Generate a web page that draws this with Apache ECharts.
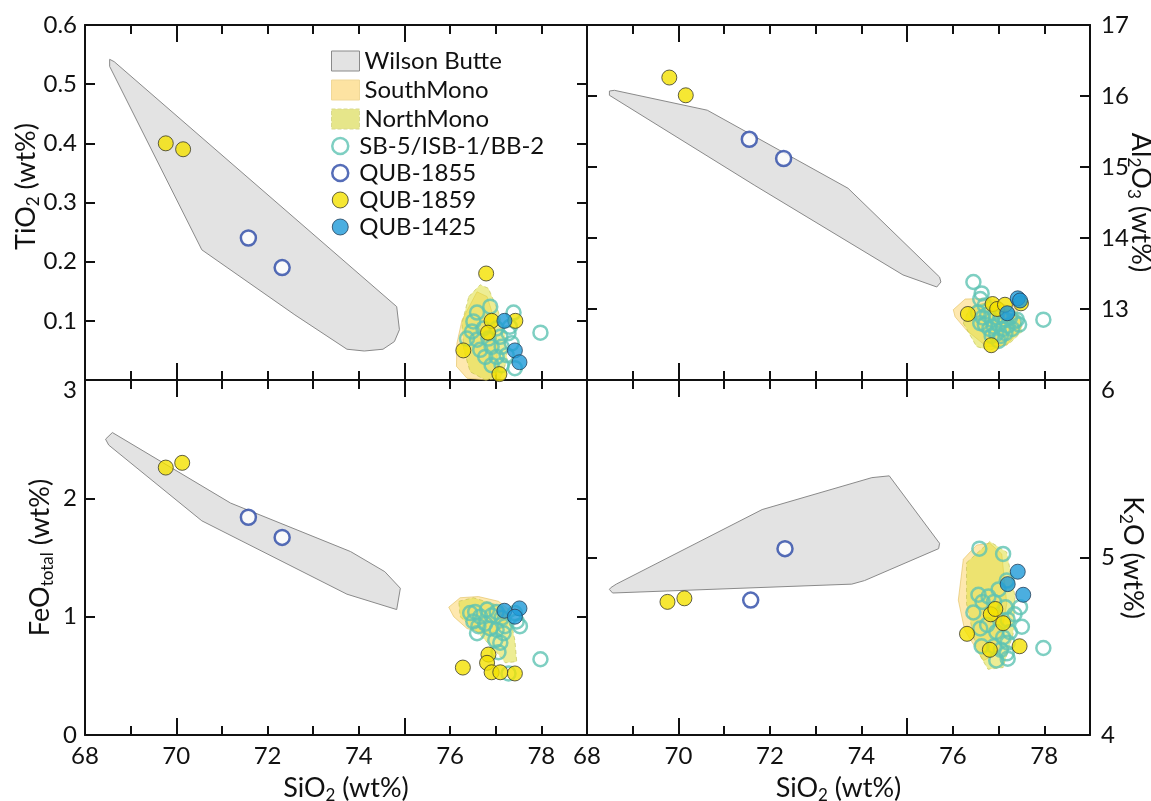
<!DOCTYPE html>
<html>
<head>
<meta charset="utf-8">
<script src="https://cdn.jsdelivr.net/npm/echarts@6/dist/echarts.min.js"></script>
<style>
    html, body { margin: 0; background: #fff; }
    #chart { width: 1151px; height: 801px; }
</style>
</head>
<body>
<div id="chart"></div>
<script>
// ---- SiO2 axis (shared by all four panels) ----
const sio2Labels     = [68, 70, 72, 74, 76, 78];
const sio2MajorTicks = [70, 75];
const sio2MinorTicks = [69, 71, 72, 73, 74, 76, 77, 78];

// ---- TiO2 panel ----
const tio2Ticks  = [0.1, 0.2, 0.3, 0.4, 0.5];
const tio2Labels = [0.1, 0.2, 0.3, 0.4, 0.5, 0.6];
const wilsonTiO2 = [[68.54,0.542],[68.64,0.538],[74.83,0.124],[74.89,0.085],[74.78,0.065],[74.53,0.052],[74.12,0.049],[73.74,0.052],[72.6,0.11],[70.56,0.22],[68.54,0.53]];
const southTiO2  = [[76.59,0.149],[76.81,0.141],[76.95,0.107],[77.03,0.062],[77.03,0.011],[76.81,0.0],[76.37,0.003],[76.14,0.023],[76.15,0.062],[76.26,0.101]];
const northTiO2  = [[76.41,0.141],[76.66,0.161],[76.84,0.155],[77.06,0.115],[77.21,0.073],[77.25,0.034],[77.10,0.003],[76.77,0.0],[76.44,0.014],[76.30,0.051],[76.26,0.096]];
const sbTiO2     = [[76.59,0.114],[76.88,0.124],[77.39,0.114],[76.48,0.082],[76.73,0.087],[77.02,0.087],[76.59,0.068],[76.84,0.070],[77.10,0.073],[77.28,0.079],[76.66,0.051],[76.91,0.056],[77.13,0.056],[77.35,0.062],[76.77,0.039],[77.02,0.039],[77.24,0.042],[76.91,0.025],[77.13,0.025],[77.42,0.020],[77.31,0.090],[76.51,0.099],[76.37,0.070],[77.98,0.08]];
const q1855TiO2  = [[71.58,0.24],[72.32,0.19]];
const q1859TiO2  = [[69.77,0.40],[70.15,0.39],[76.79,0.18],[76.91,0.10],[76.83,0.08],[77.43,0.10],[76.29,0.05],[77.08,0.01]];
const q1425TiO2  = [[77.19,0.10],[77.42,0.05],[77.52,0.03]];

// ---- Al2O3 panel ----
const al2o3Ticks  = [13, 14, 15, 16];
const al2o3Labels = [13, 14, 15, 16, 17];
const wilsonAl2O3 = [[68.49,16.07],[68.6,16.08],[70.63,15.80],[73.71,14.70],[75.71,13.45],[75.74,13.38],[75.65,13.31],[74.91,13.48],[71.67,14.74],[68.49,16.01]];
const southAl2O3  = [[76.01,12.99],[76.27,13.14],[76.81,13.15],[77.40,12.99],[77.51,12.75],[77.18,12.49],[76.74,12.47],[76.30,12.70],[76.05,12.89]];
const northAl2O3  = [[76.23,12.80],[76.37,13.03],[76.81,13.10],[77.47,12.87],[77.51,12.68],[77.25,12.52],[76.81,12.42],[76.52,12.47]];
const sbAl2O3     = [[76.45,13.38],[76.63,13.22],[76.60,13.14],[76.70,13.05],[76.55,12.95],[76.65,12.88],[76.75,12.92],[76.85,12.85],[76.95,12.88],[77.05,12.90],[77.15,12.85],[77.25,12.88],[77.35,12.82],[77.45,12.78],[76.70,12.78],[76.80,12.72],[76.90,12.75],[77.00,12.78],[77.10,12.72],[77.20,12.76],[77.30,12.72],[76.85,12.62],[76.95,12.65],[77.05,12.62],[77.15,12.66],[77.00,12.55],[76.60,12.80],[77.40,12.85],[77.98,12.85]];
const q1855Al2O3  = [[71.55,15.39],[72.30,15.12]];
const q1859Al2O3  = [[69.80,16.26],[70.16,16.01],[76.33,12.93],[76.87,13.07],[76.97,13.00],[77.14,13.06],[77.49,13.08],[76.84,12.49]];
const q1425Al2O3  = [[77.42,13.15],[77.47,13.12],[77.19,12.94]];

// ---- FeO total panel ----
const feoTicks  = [1, 2];
const feoLabels = [0, 1, 2, 3];
const wilsonFeO = [[68.45,2.50],[68.60,2.556],[71.19,1.96],[73.82,1.55],[74.57,1.38],[74.91,1.24],[74.83,1.06],[73.74,1.19],[70.56,1.81],[68.52,2.45]];
const southFeO  = [[75.97,1.08],[76.22,1.16],[76.62,1.17],[77.06,1.13],[77.35,1.04],[77.24,0.92],[76.81,0.85],[76.37,0.90],[76.08,1.00]];
const northFeO  = [[76.19,1.13],[76.51,1.16],[77.02,1.10],[77.31,1.00],[77.42,0.80],[77.46,0.62],[77.21,0.61],[76.95,0.73],[76.62,0.86],[76.22,1.00]];
const sbFeO     = [[76.44,1.03],[76.55,1.04],[76.66,1.00],[76.51,0.96],[76.62,0.92],[76.77,0.94],[76.91,1.01],[77.02,1.04],[77.13,0.99],[76.88,0.90],[77.02,0.89],[77.20,0.92],[77.46,0.96],[76.99,0.80],[77.06,0.70],[77.10,0.78],[77.28,0.52],[77.53,0.92],[77.42,1.03],[76.81,1.06],[76.59,0.86],[77.17,0.86],[77.98,0.64]];
const q1855FeO  = [[71.58,1.84],[72.32,1.67]];
const q1859FeO  = [[69.77,2.26],[70.13,2.30],[76.28,0.57],[76.84,0.68],[76.81,0.61],[76.91,0.53],[77.10,0.53],[77.42,0.52]];
const q1425FeO  = [[77.19,1.05],[77.52,1.07],[77.42,1.00]];

// ---- K2O panel ----
const k2oTicks  = [5];
const k2oLabels = [4, 5, 6];
const wilsonK2O = [[68.49,4.82],[68.52,4.83],[68.64,4.85],[71.83,5.27],[74.23,5.45],[74.61,5.46],[75.71,5.08],[75.69,5.05],[74.07,4.87],[73.79,4.85],[68.56,4.80]];
const southK2O  = [[76.12,4.76],[76.23,4.99],[76.52,5.07],[76.81,5.08],[77.07,5.02],[77.18,4.74],[76.99,4.46],[76.67,4.42],[76.26,4.59]];
const northK2O  = [[76.30,4.97],[76.81,5.09],[77.18,5.03],[77.36,4.78],[77.32,4.57],[77.10,4.38],[76.77,4.37],[76.52,4.48],[76.30,4.74]];
const sbK2O     = [[76.58,5.05],[77.10,5.02],[77.18,4.87],[77.00,4.82],[76.56,4.79],[76.78,4.78],[76.65,4.75],[76.90,4.75],[77.15,4.72],[77.47,4.72],[76.45,4.69],[77.35,4.68],[76.60,4.60],[76.75,4.62],[77.20,4.65],[77.51,4.61],[76.95,4.58],[77.10,4.55],[77.25,4.58],[76.63,4.50],[76.90,4.50],[77.05,4.48],[77.20,4.52],[77.18,4.46],[77.20,4.43],[76.95,4.42],[77.98,4.49]];
const q1855K2O  = [[72.33,5.05],[71.58,4.76]];
const q1859K2O  = [[69.76,4.75],[70.13,4.77],[76.31,4.57],[76.83,4.68],[76.93,4.71],[77.10,4.63],[76.81,4.48],[77.46,4.50]];
const q1425K2O  = [[77.42,4.92],[77.20,4.85],[77.54,4.79]];

const FONT    = 'Lato';
const INK     = '#111';
const TICK_FS = 24;
const NAME_FS = 27;
const SUB     = { fontSize: 17, fontFamily: FONT, color: INK, verticalAlign: 'bottom', padding: [0, 0, -2, 0] };
// invisible spacer used to slide a rotated axis title along its axis
const SP      = (w) => ({ width: w, fontSize: NAME_FS, fontFamily: FONT, color: 'rgba(0,0,0,0)' });

const STYLE = {
    wilson: { fill: '#e3e3e3', stroke: '#8a8a8a', dash: null },
    south:  { fill: 'rgba(253, 214, 110, 0.55)', stroke: 'rgba(225, 190, 90, 0.6)', dash: null },
    north:  { fill: 'rgba(222, 222, 60, 0.55)',  stroke: 'rgba(190, 190, 80, 0.6)', dash: [4, 3] },
};

const panels = [
    { grid: { left: 85,  top: 25,  width: 502, height: 355 }, min: 0,  max: 0.6, ticks: tio2Ticks,  labels: tio2Labels,  side: 'left',
      name: '{sp| }TiO{s|2} (wt%)', spacer: 32, nameGap: 45, xTitle: false,
      wilson: wilsonTiO2, south: southTiO2, north: northTiO2, sb: sbTiO2, q1855: q1855TiO2, q1859: q1859TiO2, q1425: q1425TiO2 },
    { grid: { left: 587, top: 25,  width: 503, height: 355 }, min: 12, max: 17,  ticks: al2o3Ticks, labels: al2o3Labels, side: 'right',
      name: 'Al{s|2}O{s|3} (wt%)', nameGap: 37, xTitle: false,
      wilson: wilsonAl2O3, south: southAl2O3, north: northAl2O3, sb: sbAl2O3, q1855: q1855Al2O3, q1859: q1859Al2O3, q1425: q1425Al2O3 },
    { grid: { left: 85,  top: 380, width: 502, height: 355 }, min: 0,  max: 3,   ticks: feoTicks,   labels: feoLabels,   side: 'left',
      name: 'FeO{s|total} (wt%)', nameGap: 31, xTitle: true, pushTop: true,
      wilson: wilsonFeO, south: southFeO, north: northFeO, sb: sbFeO, q1855: q1855FeO, q1859: q1859FeO, q1425: q1425FeO },
    { grid: { left: 587, top: 380, width: 503, height: 355 }, min: 4,  max: 6,   ticks: k2oTicks,   labels: k2oLabels,   side: 'right',
      name: 'K{s|2}O (wt%)', nameGap: 29, xTitle: true, pushTop: true,
      wilson: wilsonK2O, south: southK2O, north: northK2O, sb: sbK2O, q1855: q1855K2O, q1859: q1859K2O, q1425: q1425K2O },
];

const lineStyle = { color: INK, width: 2 };

function xAxes(p, gi) {
    const base = { gridIndex: gi, type: 'value', min: 68, max: 79, splitLine: { show: false } };
    const axes = [];
    ['bottom', 'top'].forEach((pos) => {
        const labelled = pos === 'bottom' && p.xTitle;
        axes.push({
            ...base, position: pos,
            axisLine: { show: true, onZero: false, lineStyle },
            axisTick: { show: true, inside: true, length: 17, customValues: sio2MajorTicks, lineStyle },
            axisLabel: { show: labelled, customValues: sio2Labels, fontSize: TICK_FS, fontFamily: FONT, color: INK, margin: 9 },
            name: labelled ? (gi === 2 ? '{sp| }SiO{s|2} (wt%)' : 'SiO{s|2} (wt%)') : '',
            nameLocation: 'middle', nameGap: 40, nameMoveOverlap: false,
            nameTextStyle: { fontSize: NAME_FS, fontFamily: FONT, color: INK, rich: { s: SUB, sp: SP(20) } },
        });
        axes.push({
            ...base, position: pos,
            axisLine: { show: false, onZero: false },
            axisTick: { show: true, inside: true, length: 9, customValues: sio2MinorTicks, lineStyle },
            axisLabel: { show: false },
        });
    });
    return axes;
}

function yAxes(p, gi) {
    return ['left', 'right'].map((pos) => {
        const labelled = pos === p.side;
        return {
            gridIndex: gi, type: 'value', position: pos, min: p.min, max: p.max,
            splitLine: { show: false },
            axisLine: { show: true, onZero: false, lineStyle },
            axisTick: { show: true, inside: true, length: 10, customValues: p.ticks, lineStyle },
            axisLabel: {
                show: labelled, customValues: p.labels, fontSize: TICK_FS, fontFamily: FONT, color: INK,
                margin: pos === 'left' ? 8 : 11,
                formatter: (v) => (p.pushTop && v === p.max) ? `{dn|${v}}` : String(v),
                rich: { dn: { fontSize: TICK_FS, fontFamily: FONT, color: INK, padding: [20, 0, 0, 0] } },
            },
            name: labelled ? p.name : '',
            nameLocation: 'middle', nameGap: p.nameGap, nameMoveOverlap: false,
            nameRotate: pos === 'left' ? 90 : -90,
            nameTextStyle: { fontSize: NAME_FS, fontFamily: FONT, color: INK, rich: { s: SUB, sp: SP(p.spacer || 0) } },
        };
    });
}

function polygonSeries(name, pts, style, xi, yi) {
    return {
        type: 'custom', name, xAxisIndex: xi, yAxisIndex: yi, silent: true, z: 1,
        data: pts, encode: { x: 0, y: 1 },
        renderItem: (params, api) => {
            if (params.dataIndex !== 0) return null;
            return {
                type: 'polygon',
                shape: { points: pts.map((pt) => api.coord(pt)) },
                style: { fill: style.fill, stroke: style.stroke, lineWidth: 1, lineDash: style.dash },
            };
        },
    };
}

function pointSeries(name, data, xi, yi, itemStyle, size, z) {
    return { type: 'scatter', name, xAxisIndex: xi, yAxisIndex: yi, data, symbol: 'circle', symbolSize: size, itemStyle, z, silent: true };
}

const sbStyle    = { color: 'rgba(255,255,255,0)', borderColor: '#5ec3b3', borderWidth: 2.5 };
const q1855Style = { color: '#ffffff', borderColor: '#2b49a6', borderWidth: 2.5 };
const q1859Style = { color: '#f4e100', borderColor: '#3a3a2a', borderWidth: 1 };
const q1425Style = { color: '#1e9ad8', borderColor: '#25405a', borderWidth: 1 };

const grids = [], xAxis = [], yAxis = [], series = [];
panels.forEach((p, gi) => {
    grids.push({ ...p.grid, containLabel: false, outerBoundsMode: 'none' });
    xAxis.push(...xAxes(p, gi));
    yAxis.push(...yAxes(p, gi));
    const xi = gi * 4, yi = gi * 2;
    series.push(
        polygonSeries('Wilson Butte', p.wilson, STYLE.wilson, xi, yi),
        polygonSeries('SouthMono', p.south, STYLE.south, xi, yi),
        polygonSeries('NorthMono', p.north, STYLE.north, xi, yi),
        pointSeries('SB-5/ISB-1/BB-2', p.sb, xi, yi, sbStyle, 14, 3),
        pointSeries('QUB-1855', p.q1855, xi, yi, q1855Style, 15, 4),
        pointSeries('QUB-1859', p.q1859, xi, yi, q1859Style, 15, 5),
        pointSeries('QUB-1425', p.q1425, xi, yi, q1425Style, 15, 6),
    );
});

const legendText = { fontSize: 24, fontFamily: FONT, color: INK };

const option = {
    animation: false,
    backgroundColor: '#fff',
    textStyle: { fontFamily: FONT },
    grid: grids,
    xAxis, yAxis, series,
    legend: [
        {
            orient: 'vertical', left: 326, top: 44, itemWidth: 28, itemHeight: 20, itemGap: 5,
            selectedMode: false, textStyle: legendText,
            data: [
                { name: 'Wilson Butte', icon: 'rect', itemStyle: { color: STYLE.wilson.fill, borderColor: '#8a8a8a', borderWidth: 1 } },
                { name: 'SouthMono', icon: 'rect', itemStyle: { color: '#fde3a2', borderColor: '#f0d898', borderWidth: 1 } },
                { name: 'NorthMono', icon: 'rect', itemStyle: { color: '#e6e68a', borderColor: '#d8d890', borderWidth: 1, borderType: 'dashed' } },
            ],
        },
        {
            orient: 'vertical', left: 326, top: 129, itemWidth: 28, itemHeight: 16, itemGap: 3,
            selectedMode: false, textStyle: legendText,
            data: [
                { name: 'SB-5/ISB-1/BB-2', icon: 'circle', itemStyle: sbStyle },
                { name: 'QUB-1855', icon: 'circle', itemStyle: q1855Style },
                { name: 'QUB-1859', icon: 'circle', itemStyle: q1859Style },
                { name: 'QUB-1425', icon: 'circle', itemStyle: q1425Style },
            ],
        },
    ],
};

const chart = echarts.init(document.getElementById('chart'), null, { renderer: 'canvas' });
chart.setOption(option);
</script>
</body>
</html>
